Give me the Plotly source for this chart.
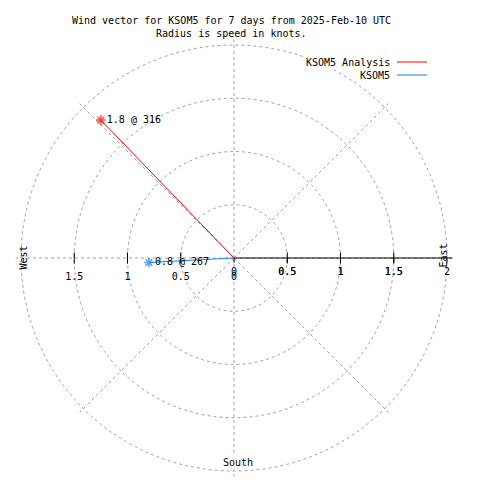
import plotly.graph_objects as go

# ---- data ----
series_names = ["KSOM5 Analysis", "KSOM5"]
speeds = [1.8, 0.8]          # knots
directions = [316, 267]      # degrees
colors = ["#ff0000", "#1e7fe0"]
radial_ticks = [0, 0.5, 1, 1.5, 2]
radial_ticktext = ["0", "0.5", "1", "1.5", "2"]
left_ticks = [0, 0.5, 1, 1.5]
left_ticktext = ["0", "0.5", "1", "1.5"]
title_lines = ["Wind vector for KSOM5 for 7 days from 2025-Feb-10 UTC",
               "Radius is speed in knots."]
r_max = 2.05

FONT = "DejaVu Sans Mono"
GRID = "#a0a0a0"
OFF = 8  # browser body margin
CX, CY, PX_PER_KNOT = 234, 258, 106.5


def px(x):
    return (x - OFF) / 480


def py(y):
    return 1 - (y - OFF) / 480


fig = go.Figure()

# vectors
for name, sp, d, c in zip(series_names, speeds, directions, colors):
    fig.add_trace(go.Scatterpolar(
        r=[0, sp], theta=[d, d], mode="lines+markers+text",
        line=dict(color=c, width=1),
        marker=dict(symbol=["circle", "asterisk-open"], size=[0, 8],
                    color=c, line=dict(color=c, width=1.5)),
        text=["", f"{sp:g} @ {d}"], textposition="middle right",
        textfont=dict(family=FONT, size=10, color="black"),
        name=name, showlegend=False, cliponaxis=False))

# tick marks crossing the horizontal axis on both sides
fig.add_trace(go.Scatterpolar(
    r=radial_ticks[1:4] + radial_ticks[1:4],
    theta=[90] * 3 + [270] * 3, mode="markers",
    marker=dict(symbol="line-ns", size=8, line=dict(color="black", width=1)),
    showlegend=False, hoverinfo="skip"))

# west-side tick labels
fig.add_trace(go.Scatterpolar(
    r=left_ticks, theta=[270] * len(left_ticks), mode="markers+text",
    text=left_ticktext, textposition="bottom center",
    marker=dict(size=22, opacity=0),
    textfont=dict(family=FONT, size=10, color="black"),
    showlegend=False, hoverinfo="skip", cliponaxis=False))

# overprinted east-side tick labels (second axis labels)
fig.add_trace(go.Scatterpolar(
    r=radial_ticks[1:4], theta=[90] * 3, mode="markers+text",
    text=radial_ticktext[1:4], textposition="bottom center",
    marker=dict(size=14, opacity=0),
    textfont=dict(family=FONT, size=10, color="black"),
    showlegend=False, hoverinfo="skip", cliponaxis=False))

R = r_max * PX_PER_KNOT
fig.update_layout(
    width=480, height=480,
    margin=dict(l=0, r=0, t=0, b=0),
    paper_bgcolor="white", plot_bgcolor="white",
    showlegend=False,
    polar=dict(
        domain=dict(x=[px(CX - R), px(CX + R)], y=[py(CY + R), py(CY - R)]),
        bgcolor="white",
        radialaxis=dict(
            range=[0, r_max], angle=0, side="clockwise",
            tickvals=radial_ticks, ticktext=radial_ticktext,
            ticks="outside", ticklen=4, tickcolor="black",
            showline=True, linecolor="black", linewidth=1,
            gridcolor=GRID, griddash="3px,3px", gridwidth=1,
            tickfont=dict(family=FONT, size=10, color="black"),
        ),
        angularaxis=dict(
            rotation=90, direction="clockwise", dtick=45,
            showticklabels=False, ticks="", showline=False,
            gridcolor=GRID, griddash="3px,3px", gridwidth=1,
        ),
    ),
)

# title
for i, line in enumerate(title_lines):
    fig.add_annotation(text=line, x=px(231.5), y=py(20 + 13 * i),
                       xref="paper", yref="paper", xanchor="center", yanchor="middle",
                       showarrow=False, font=dict(family=FONT, size=10, color="black"))

# compass labels
fig.add_annotation(text="West", x=px(15), y=py(258), xref="paper", yref="paper",
                   textangle=-90, showarrow=False, font=dict(family=FONT, size=10, color="black"))
fig.add_annotation(text="East", x=px(450), y=py(256), xref="paper", yref="paper",
                   textangle=-90, showarrow=False, font=dict(family=FONT, size=10, color="black"))
fig.add_annotation(text="South", x=px(238), y=py(470), xref="paper", yref="paper",
                   showarrow=False, bgcolor="white",
                   font=dict(family=FONT, size=10, color="black"))

# legend (text right aligned, sample line on the right)
for i, (name, c) in enumerate(zip(series_names, colors)):
    yy = py(62 + 13 * i)
    fig.add_annotation(text=name, x=px(392), y=yy, xref="paper", yref="paper",
                       xanchor="right", yanchor="middle", showarrow=False,
                       bgcolor="white",
                       font=dict(family=FONT, size=10, color="black"))
    fig.add_shape(type="line", xref="paper", yref="paper",
                  x0=px(397), x1=px(427), y0=yy, y1=yy,
                  line=dict(color=c, width=1))

fig.write_html("out.html")
